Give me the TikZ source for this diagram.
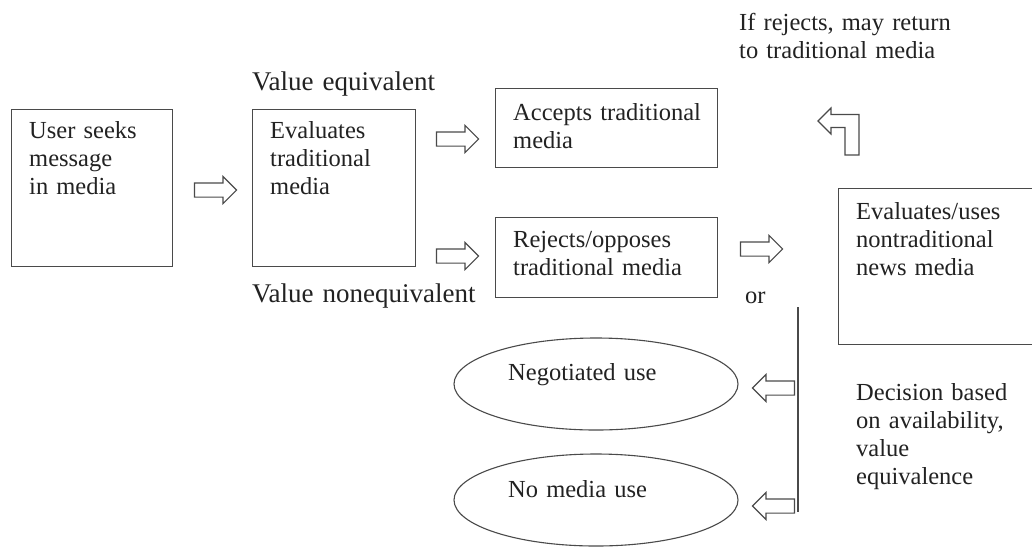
\documentclass[tikz,border=0pt]{standalone}
\usepackage{fontspec}
\setmainfont{Liberation Serif}
\usetikzlibrary{shapes.arrows,shapes.geometric}
\definecolor{textc}{HTML}{222222}
\definecolor{linec}{HTML}{4A4A4A}
\begin{document}
\begin{tikzpicture}[x=1pt,y=-1pt,
  box/.style={draw=linec, line width=1.2pt, anchor=north west, inner sep=0pt},
  txt/.style={anchor=base west, inner sep=0pt, text width=260pt, align=left,
    font=\fontsize{24.5}{28}\selectfont, text=textc},
  lbl/.style={txt, font=\fontsize{27}{30}\selectfont},
  barrow/.style={single arrow, draw=linec, line width=1.1pt, fill=white,
    minimum height=42pt, inner xsep=0pt, inner ysep=6.5pt,
    single arrow head extend=6.5pt, single arrow tip angle=90},
  ell/.style={ellipse, draw=linec, line width=1.1pt, inner sep=0pt,
    minimum width=284pt, minimum height=92pt}
]
\useasboundingbox (0,0) rectangle (1032,552);
\fill[white] (0,0) rectangle (1032,552);

% boxes
\node[box, minimum width=161pt, minimum height=157pt] (b1) at (11,109) {};
\node[box, minimum width=163pt, minimum height=157pt] (b2) at (252,109) {};
\node[box, minimum width=222pt, minimum height=79pt] (acc) at (495,88) {};
\node[box, minimum width=222pt, minimum height=80pt] (rej) at (495,217) {};
\node[box, minimum width=200pt, minimum height=156pt] (nontr) at (838,188) {};

% texts
\node[txt] (t1) at (29,138) {User seeks\\message\\in media};
\node[txt] (t2) at (270,138) {Evaluates\\traditional\\media};
\node[txt] (tacc) at (513,120) {Accepts traditional\\media};
\node[txt] (trej) at (513,247) {Rejects/opposes\\traditional media};
\node[txt] (tnon) at (856,219) {Evaluates/uses\\nontraditional\\news media};
\node[lbl] (veq) at (252,90) {Value equivalent};
\node[lbl] (vneq) at (252,302) {Value nonequivalent};
\node[txt] (ifrej) at (739,30) {If rejects, may return\\to traditional media};
\node[txt] (or) at (745,303) {or};
\node[txt] (dec) at (856,400) {Decision based\\on availability,\\value\\equivalence};

% ellipses
\node[ell] (neg) at (596,384) {};
\node[txt] (tneg) at (508,380) {Negotiated use};
\node[ell] (nomed) at (596,500) {};
\node[txt] (tnom) at (508,497) {No media use};

% block arrows
\node[barrow] (a1) at (212,190) {};
\node[barrow] (a2) at (454,139) {};
\node[barrow] (a3) at (454,256) {};
\node[barrow] (a4) at (758,249) {};

% vertical line with left arrows
\coordinate (vtop) at (798,307);
\coordinate (vbot) at (798,512);
\draw[linec, line width=1.2pt] (vtop) -- (vbot);
\node[barrow, shape border rotate=180] (l1) at (777,388) {};
\node[barrow, shape border rotate=180] (l2) at (777,506) {};

% bent return arrow
\draw[linec, line width=1.1pt, fill=white, line join=miter]
  (818,121) -- (831,108) -- (831,114.5) -- (859,114.5) -- (859,155)
  -- (845,155) -- (845,127.5) -- (831,127.5) -- (831,134) -- cycle;
\end{tikzpicture}
\end{document}
